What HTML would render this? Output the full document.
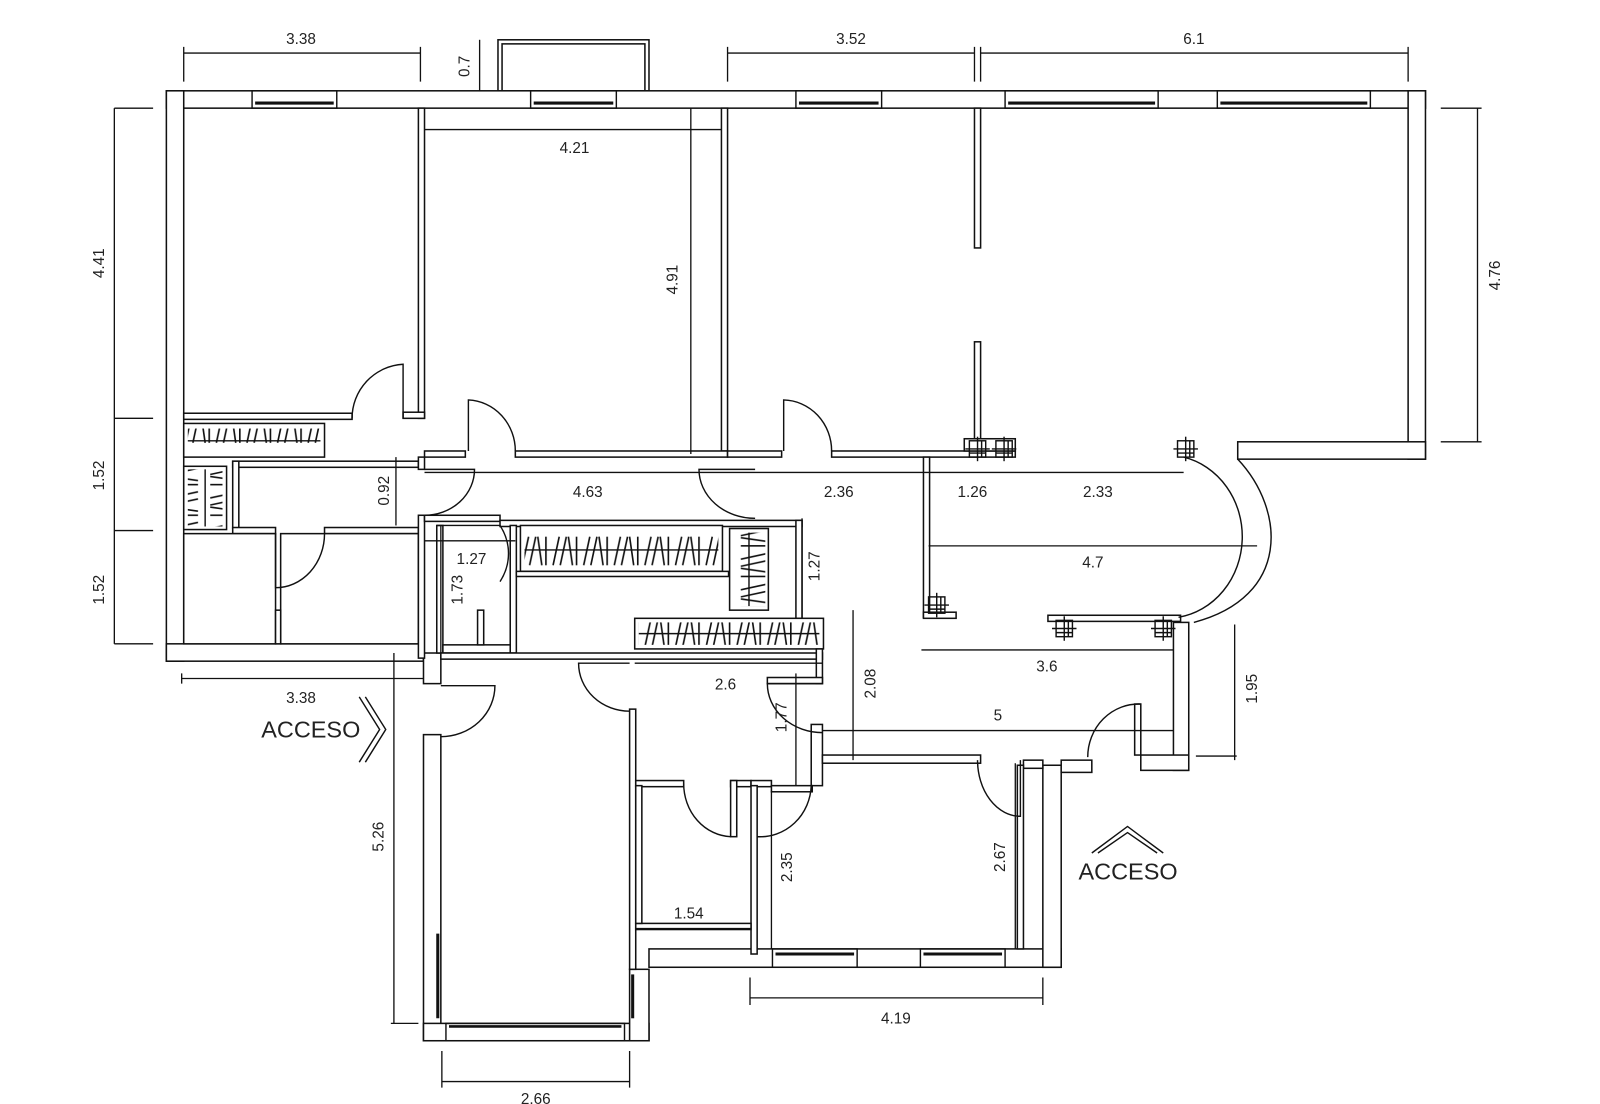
<!DOCTYPE html>
<html><head><meta charset="utf-8"><style>
html,body{margin:0;padding:0;background:#fff;}
svg{display:block;}
text{font-family:"Liberation Sans",Arial,sans-serif;fill:#222;}
</style></head><body>
<svg width="1600" height="1104" viewBox="0 0 1568 1082" xmlns="http://www.w3.org/2000/svg">
<defs>
<pattern id="zz" width="30" height="40" patternUnits="userSpaceOnUse">
<g stroke="#111" stroke-width="1.6" fill="none">
<line x1="2" y1="34" x2="8" y2="6"/><line x1="9" y1="34" x2="15" y2="6"/><line x1="17" y1="6" x2="21" y2="34"/><line x1="25" y1="6" x2="25" y2="34"/>
</g></pattern>
<pattern id="zzv" width="40" height="30" patternUnits="userSpaceOnUse">
<g stroke="#111" stroke-width="1.6" fill="none">
<line y1="2" x1="34" y2="8" x2="6"/><line y1="9" x1="34" y2="15" x2="6"/><line y1="17" x1="6" y2="21" x2="34"/><line y1="25" x1="6" y2="25" x2="34"/>
</g></pattern>
<g id="col" stroke="#111" stroke-width="1.4" fill="none"><rect x="-8" y="-8" width="16" height="16"/><line x1="-12" y1="0" x2="12" y2="0"/><line x1="0" y1="-12" x2="0" y2="12"/><line x1="-8" y1="4" x2="8" y2="4"/><line x1="4" y1="-8" x2="4" y2="8"/></g>
</defs>
<rect width="1568" height="1082" fill="#fff"/>
<g fill="#fff" stroke="#111" stroke-width="1.5">
<rect x="488" y="39" width="148" height="50"/>
<rect x="492" y="43" width="140" height="46"/>
<rect x="163" y="89" width="1234" height="17"/>
<rect x="163" y="89" width="17" height="559"/>
<rect x="163" y="631" width="252" height="17"/>
<rect x="1380" y="89" width="17" height="361"/>
<rect x="1213" y="433" width="184" height="17"/>
<rect x="415" y="640" width="17" height="30"/>
<rect x="415" y="720" width="17" height="300"/>
<rect x="415" y="1003" width="221" height="17"/>
<rect x="617" y="950" width="19" height="70"/>
<rect x="617" y="695" width="6" height="255"/>
<rect x="636" y="930" width="404" height="18"/>
<rect x="1022" y="750" width="18" height="198"/>
<rect x="1040" y="745" width="30" height="12"/>
<rect x="1150" y="610" width="15" height="145"/>
<rect x="1118" y="740" width="47" height="15"/>
<rect x="1112" y="690" width="6" height="50"/>
<rect x="410" y="106" width="6" height="304"/>
<rect x="395" y="404" width="21" height="6"/>
<rect x="707" y="106" width="6" height="336"/>
<rect x="955" y="106" width="6" height="137"/>
<rect x="955" y="335" width="6" height="105"/>
<rect x="416" y="442" width="40" height="6"/>
<rect x="505" y="442" width="208" height="6"/>
<rect x="713" y="442" width="53" height="6"/>
<rect x="815" y="442" width="180" height="6"/>
<rect x="180" y="405" width="165" height="6"/>
<rect x="180" y="415" width="138" height="33"/>
<rect x="180" y="457" width="42" height="62"/>
<rect x="228" y="452" width="182" height="6"/>
<rect x="228" y="452" width="6" height="66"/>
<rect x="228" y="517" width="42" height="6"/>
<rect x="318" y="517" width="92" height="6"/>
<rect x="180" y="523" width="90" height="108"/>
<rect x="275" y="523" width="135" height="108"/>
<rect x="270" y="598" width="5" height="33"/>
<rect x="410" y="448" width="6" height="12"/>
<rect x="410" y="505" width="6" height="140"/>
<rect x="416" y="505" width="74" height="6"/>
<rect x="490" y="510" width="296" height="6"/>
<rect x="428" y="515" width="6" height="125"/>
<rect x="500" y="515" width="6" height="125"/>
<rect x="434" y="632" width="66" height="8"/>
<rect x="468" y="598" width="6" height="34"/>
<rect x="510" y="515" width="198" height="45"/>
<rect x="506" y="560" width="208" height="5"/>
<rect x="715" y="518" width="38" height="80"/>
<rect x="780" y="510" width="6" height="96"/>
<rect x="622" y="606" width="185" height="30"/>
<rect x="432" y="640" width="374" height="6"/>
<rect x="800" y="636" width="6" height="34"/>
<rect x="752" y="664" width="54" height="6"/>
<rect x="795" y="710" width="11" height="60"/>
<rect x="806" y="740" width="155" height="8"/>
<rect x="1003" y="745" width="19" height="8"/>
<rect x="623" y="765" width="47" height="6"/>
<rect x="716" y="765" width="20" height="6"/>
<rect x="716" y="765" width="6" height="55"/>
<rect x="736" y="765" width="20" height="6"/>
<rect x="736" y="770" width="6" height="165"/>
<rect x="623" y="905" width="113" height="6"/>
<rect x="623" y="770" width="6" height="135"/>
<rect x="756" y="770" width="40" height="6"/>
<rect x="997" y="750" width="6" height="180"/>
<rect x="905" y="448" width="6" height="157"/>
<rect x="905" y="600" width="32" height="6"/>
<rect x="1027" y="603" width="130" height="6"/>
<rect x="945" y="430" width="50" height="12"/>
</g>
<rect x="184" y="420" width="130" height="24" fill="url(#zz)"/>
<rect x="514" y="520" width="190" height="35" fill="url(#zz)"/>
<rect x="626" y="610" width="177" height="22" fill="url(#zz)"/>
<rect x="184" y="460" width="34" height="56" fill="url(#zzv)"/>
<rect x="718" y="522" width="32" height="72" fill="url(#zzv)"/>
<g stroke="#111" stroke-width="1.4" fill="none">
<line x1="184" y1="432" x2="314" y2="432"/><line x1="514" y1="539" x2="704" y2="539"/><line x1="626" y1="621" x2="803" y2="621"/>
<line x1="201" y1="460" x2="201" y2="516"/><line x1="734" y1="522" x2="734" y2="594"/>
<rect x="247" y="89" width="83" height="17"/><line x1="250" y1="101" x2="327" y2="101" stroke-width="3"/>
<rect x="520" y="89" width="84" height="17"/><line x1="523" y1="101" x2="601" y2="101" stroke-width="3"/>
<rect x="780" y="89" width="84" height="17"/><line x1="783" y1="101" x2="861" y2="101" stroke-width="3"/>
<rect x="985" y="89" width="150" height="17"/><line x1="988" y1="101" x2="1132" y2="101" stroke-width="3"/>
<rect x="1193" y="89" width="150" height="17"/><line x1="1196" y1="101" x2="1340" y2="101" stroke-width="3"/>
<rect x="757" y="930" width="83" height="18"/><line x1="760" y1="935" x2="837" y2="935" stroke-width="3"/>
<rect x="902" y="930" width="83" height="18"/><line x1="905" y1="935" x2="982" y2="935" stroke-width="3"/>
<rect x="437" y="1003" width="175" height="17"/><line x1="440" y1="1006" x2="609" y2="1006" stroke-width="2.5"/>
<line x1="429" y1="915" x2="429" y2="998" stroke-width="3"/><line x1="620" y1="955" x2="620" y2="998" stroke-width="3"/>
<path d="M1160,448 A74,80 0 0 1 1155,605"/>
<path d="M1213,450 C1260,500 1265,585 1170,610"/>
<path d="M395,410 L395,357 A53,53 0 0 0 345,410"/>
<path d="M270,523 L270,576 A48,53 0 0 0 318,523"/>
<path d="M416,460 L465,460 A49,45 0 0 1 416,505"/>
<path d="M459,442 L459,392 A48,50 0 0 1 505,442"/>
<path d="M768,442 L768,392 A48,50 0 0 1 815,442"/>
<path d="M740,460 L685,460 A55,48 0 0 0 740,508"/>
<path d="M428,515 L490,515 A62,55 0 0 1 490,570"/>
<path d="M432,672 L485,672 A53,50 0 0 1 432,722"/>
<path d="M617,650 L567,650 A50,47 0 0 0 617,697"/>
<path d="M806,670 L752,670 A54,48 0 0 0 806,718"/>
<path d="M670,768 A48,52 0 0 0 716,820"/>
<path d="M742,820 A50,52 0 0 0 795,770"/>
<path d="M1000,745 L1000,800 A42,55 0 0 1 958,745"/>
<path d="M1118,690 A50,52 0 0 0 1066,742"/>
</g>
<use href="#col" x="958" y="440"/><use href="#col" x="984" y="440"/><use href="#col" x="1162" y="440"/>
<use href="#col" x="918" y="593"/><use href="#col" x="1043" y="616"/><use href="#col" x="1140" y="616"/>
<g stroke="#111" stroke-width="1.3" fill="none">
<path d="M180,52H412M180,46V80M412,46V80"/>
<path d="M713,52H955M713,46V80M955,46V80"/>
<path d="M961,52H1380M961,46V80M1380,46V80"/>
<path d="M470,39V89"/>
<path d="M112,106H150M112,410H150M112,520H150M112,631H150M112,106V631"/>
<path d="M1412,106H1452M1412,433H1452M1448,106V433"/>
<path d="M416,127H707M677,106V445"/>
<path d="M416,463H905M740,463H905M905,463H1160"/>
<path d="M388,448V515"/>
<path d="M416,530H505"/><path d="M432,515V640"/>
<path d="M786,508V606"/>
<path d="M178,665H415M178,660V670"/>
<path d="M386,640V1003M383,1003H410"/>
<path d="M910,535H1232"/>
<path d="M903,637H1150"/>
<path d="M836,598V745"/>
<path d="M806,716H1150"/>
<path d="M1172,741H1212M1210,612V745"/>
<path d="M622,650H806"/><path d="M780,660V770"/>
<path d="M756,775V930"/><path d="M995,748V930"/>
<path d="M623,910H736"/>
<path d="M735,958V985M1022,958V985M735,978H1022"/>
<path d="M433,1030V1066M617,1030V1066M433,1060H617"/>
</g>
<g font-size="15">
<text x="295" y="43" text-anchor="middle">3.38</text>
<text x="834" y="43" text-anchor="middle">3.52</text>
<text x="1170" y="43" text-anchor="middle">6.1</text>
<text x="460" y="65" transform="rotate(-90 460 65)" text-anchor="middle">0.7</text>
<text x="102" y="258" transform="rotate(-90 102 258)" text-anchor="middle">4.41</text>
<text x="102" y="466" transform="rotate(-90 102 466)" text-anchor="middle">1.52</text>
<text x="102" y="578" transform="rotate(-90 102 578)" text-anchor="middle">1.52</text>
<text x="1470" y="270" transform="rotate(-90 1470 270)" text-anchor="middle">4.76</text>
<text x="563" y="150" text-anchor="middle">4.21</text>
<text x="664" y="274" transform="rotate(-90 664 274)" text-anchor="middle">4.91</text>
<text x="576" y="487" text-anchor="middle">4.63</text>
<text x="822" y="487" text-anchor="middle">2.36</text>
<text x="953" y="487" text-anchor="middle">1.26</text>
<text x="1076" y="487" text-anchor="middle">2.33</text>
<text x="381" y="481" transform="rotate(-90 381 481)" text-anchor="middle">0.92</text>
<text x="462" y="553" text-anchor="middle">1.27</text>
<text x="453" y="578" transform="rotate(-90 453 578)" text-anchor="middle">1.73</text>
<text x="803" y="555" transform="rotate(-90 803 555)" text-anchor="middle">1.27</text>
<text x="1071" y="556" text-anchor="middle">4.7</text>
<text x="1026" y="658" text-anchor="middle">3.6</text>
<text x="858" y="670" transform="rotate(-90 858 670)" text-anchor="middle">2.08</text>
<text x="1232" y="675" transform="rotate(-90 1232 675)" text-anchor="middle">1.95</text>
<text x="711" y="676" text-anchor="middle">2.6</text>
<text x="771" y="703" transform="rotate(-90 771 703)" text-anchor="middle">1.77</text>
<text x="978" y="706" text-anchor="middle">5</text>
<text x="295" y="689" text-anchor="middle">3.38</text>
<text x="376" y="820" transform="rotate(-90 376 820)" text-anchor="middle">5.26</text>
<text x="776" y="850" transform="rotate(-90 776 850)" text-anchor="middle">2.35</text>
<text x="985" y="840" transform="rotate(-90 985 840)" text-anchor="middle">2.67</text>
<text x="675" y="900" text-anchor="middle">1.54</text>
<text x="878" y="1003" text-anchor="middle">4.19</text>
<text x="525" y="1082" text-anchor="middle">2.66</text>
</g>
<g font-size="23">
<text x="256" y="723">ACCESO</text>
<text x="1057" y="862">ACCESO</text>
</g>
<g stroke="#111" stroke-width="1.4" fill="none">
<path d="M352,683 L372,715 L352,747 M358,683 L378,715 L358,747"/>
<path d="M1070,836 L1105,810 L1140,836 M1076,836 L1105,816 L1134,836"/>
</g>
</svg>
</body></html>
